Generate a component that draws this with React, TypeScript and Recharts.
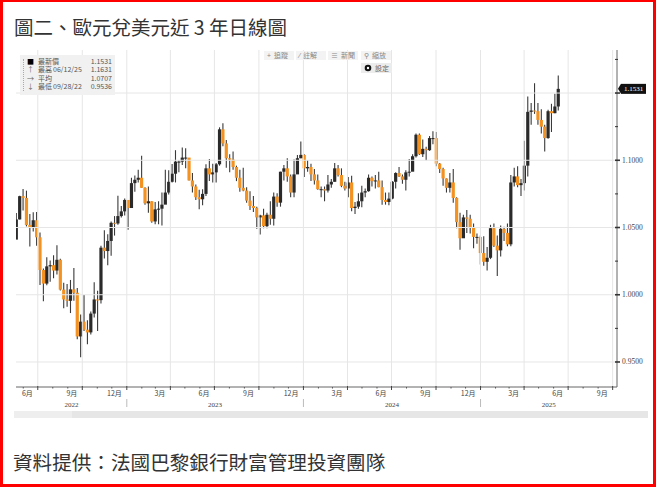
import { ComposedChart, Bar, XAxis, YAxis, ReferenceLine } from 'recharts';

const DAY = 86400000;

// weekly candles, week ending Friday, first week ends 2022-05-20
const firstWeekEnd = Date.UTC(2022, 4, 20);
const firstOpen = 1.041;

const close2022 = [
  1.056, 1.0733, 1.072, 1.0519, 1.0496, 1.0554, 1.0427, 1.0184, 1.0083, 1.0211, 1.022, 1.018, 1.026,
  1.0038, 0.9965, 0.9955, 1.004, 1.0015, 0.969, 0.98, 0.974, 0.972, 0.986, 0.9965, 0.996, 1.035,
  1.0325, 1.04, 1.0535, 1.053, 1.0585, 1.062, 1.0705,
];
const high2022 = [
  1.0607, 1.0737, 1.0787, 1.0774, 1.0601, 1.0614, 1.0615, 1.0463, 1.0196, 1.0278, 1.0255, 1.0294,
  1.0368, 1.0268, 1.009, 1.008, 1.011, 1.0198, 1.005, 0.9854, 0.9999, 0.981, 0.9875, 1.0093, 1.003,
  1.0365, 1.048, 1.045, 1.0545, 1.0585, 1.0737, 1.066, 1.0715,
];
const low2022 = [
  1.046, 1.056, 1.0627, 1.0508, 1.0359, 1.047, 1.0365, 1.0072, 0.9952, 1.0071, 1.0097, 1.0123, 1.015,
  1.0032, 0.99, 0.991, 0.9864, 0.9955, 0.9669, 0.9536, 0.973, 0.9632, 0.9705, 0.983, 0.973, 0.9935,
  1.027, 1.022, 1.029, 1.044, 1.052, 1.0575, 1.059,
];

const close2023 = [
  1.0645, 1.083, 1.0855, 1.087, 1.0795, 1.068, 1.0695, 1.0545, 1.0635, 1.064, 1.067, 1.076, 1.084,
  1.09, 1.099, 1.099, 1.102, 1.102, 1.085, 1.0805, 1.0725, 1.071, 1.075, 1.094, 1.0895, 1.091, 1.097,
  1.123, 1.1125, 1.1015, 1.1005, 1.095, 1.087, 1.0795, 1.0775, 1.07, 1.066, 1.0645, 1.0575, 1.059,
  1.051, 1.0595, 1.0565, 1.073, 1.0685, 1.0915, 1.094, 1.088, 1.076, 1.0895, 1.1015, 1.104,
];
const high2023 = [
  1.0685, 1.087, 1.0887, 1.0929, 1.1033, 1.08, 1.0805, 1.0695, 1.069, 1.0695, 1.076, 1.093, 1.0925,
  1.0973, 1.1075, 1.1, 1.1095, 1.109, 1.1005, 1.0905, 1.082, 1.078, 1.0785, 1.097, 1.101, 1.0975,
  1.098, 1.1245, 1.1276, 1.115, 1.1045, 1.1065, 1.096, 1.093, 1.0945, 1.08, 1.077, 1.0735, 1.0655,
  1.0595, 1.064, 1.061, 1.0695, 1.076, 1.0755, 1.0915, 1.0965, 1.1015, 1.0895, 1.1005, 1.104, 1.114,
];
const low2023 = [
  1.0483, 1.0645, 1.0766, 1.0835, 1.0795, 1.067, 1.061, 1.0535, 1.0525, 1.0525, 1.0515, 1.071,
  1.0745, 1.0835, 1.0835, 1.091, 1.0965, 1.094, 1.085, 1.076, 1.0705, 1.0635, 1.0665, 1.0735, 1.0845,
  1.0835, 1.0835, 1.096, 1.1105, 1.0945, 1.091, 1.093, 1.0845, 1.0765, 1.077, 1.0685, 1.063, 1.0615,
  1.049, 1.0448, 1.0495, 1.0495, 1.052, 1.0515, 1.0655, 1.0655, 1.085, 1.084, 1.0725, 1.0725, 1.09,
  1.1015,
];

const close2024 = [
  1.094, 1.095, 1.0895, 1.085, 1.0785, 1.0785, 1.0775, 1.082, 1.084, 1.094, 1.089, 1.081, 1.079,
  1.0835, 1.0645, 1.0655, 1.0695, 1.076, 1.077, 1.087, 1.0845, 1.085, 1.08, 1.0705, 1.069, 1.0715,
  1.084, 1.0905, 1.088, 1.0855, 1.091, 1.0915, 1.103, 1.119, 1.1045, 1.1085, 1.1075, 1.1165, 1.1165,
  1.0975, 1.0935, 1.0865, 1.0795, 1.0835, 1.072, 1.054, 1.042, 1.0575, 1.0565, 1.05, 1.043, 1.043,
];
const high2024 = [
  1.1045, 1.1, 1.0975, 1.0935, 1.0895, 1.0805, 1.0805, 1.089, 1.086, 1.098, 1.0965, 1.094, 1.084,
  1.0875, 1.0885, 1.069, 1.0755, 1.081, 1.079, 1.0895, 1.088, 1.089, 1.0915, 1.085, 1.076, 1.076,
  1.0845, 1.091, 1.095, 1.0895, 1.0925, 1.101, 1.1045, 1.12, 1.12, 1.1155, 1.11, 1.118, 1.1215,
  1.121, 1.098, 1.0945, 1.0865, 1.0905, 1.0935, 1.0725, 1.061, 1.0595, 1.063, 1.0595, 1.053, 1.0455,
];
const low2024 = [
  1.0875, 1.0915, 1.0845, 1.082, 1.078, 1.0725, 1.0695, 1.076, 1.0795, 1.084, 1.088, 1.08, 1.0775,
  1.0725, 1.062, 1.06, 1.064, 1.065, 1.0725, 1.0765, 1.0805, 1.079, 1.08, 1.067, 1.067, 1.0665,
  1.071, 1.079, 1.0875, 1.0825, 1.0775, 1.088, 1.0925, 1.102, 1.104, 1.1025, 1.1, 1.107, 1.112,
  1.0955, 1.0905, 1.081, 1.076, 1.076, 1.0685, 1.0495, 1.0335, 1.0425, 1.046, 1.0455, 1.0345, 1.038,
];

const close2025 = [
  1.031, 1.0245, 1.0275, 1.0495, 1.0365, 1.033, 1.049, 1.046, 1.0375, 1.0835, 1.088, 1.0815, 1.083,
  1.096, 1.136, 1.137, 1.1365, 1.13, 1.125, 1.1165, 1.1365, 1.135, 1.14, 1.1531,
];
const high2025 = [
  1.044, 1.0435, 1.0355, 1.052, 1.053, 1.044, 1.0515, 1.0505, 1.053, 1.089, 1.0945, 1.0955, 1.086,
  1.1145, 1.1475, 1.1425, 1.1573, 1.1425, 1.138, 1.1265, 1.1375, 1.142, 1.1495, 1.1631,
];
const low2025 = [
  1.0225, 1.0215, 1.018, 1.0265, 1.0355, 1.014, 1.0285, 1.04, 1.036, 1.036, 1.0805, 1.08, 1.0735,
  1.0775, 1.088, 1.1265, 1.1345, 1.1265, 1.12, 1.1065, 1.116, 1.121, 1.135, 1.137,
];

const closes = [...close2022, ...close2023, ...close2024, ...close2025];
const highs = [...high2022, ...high2023, ...high2024, ...high2025];
const lows = [...low2022, ...low2023, ...low2024, ...low2025];

const lastPrice = 1.1531;
const legendRows = [
  { icon: '■', label: '最新價', date: '', value: '1.1531' },
  { icon: '↑', label: '最高', date: '06/12/25', value: '1.1631' },
  { icon: '→', label: '平均', date: '', value: '1.0707' },
  { icon: '↓', label: '最低', date: '09/28/22', value: '0.9536' },
];
const toolbarItems = [
  { icon: '+', label: '追蹤', left: 264 },
  { icon: '⁄', label: '註解', left: 296 },
  { icon: '≡', label: '新聞', left: 328 },
  { icon: '⚲', label: '縮放', left: 361 },
];

const yTicks = [0.95, 0.975, 1.0, 1.025, 1.05, 1.075, 1.1, 1.125, 1.15, 1.175];
const yMajor = [0.95, 1.0, 1.05, 1.1, 1.15];
// 1.1500 sits under the last-price tag, so its label is left out
const yLabelled = [0.95, 1.0, 1.05, 1.1];

const xStart = Date.UTC(2022, 4, 17);
const xEnd = Date.UTC(2025, 9, 10);

const monthTicks: number[] = [];
for (let y = 2022; y <= 2025; y++) {
  for (let m = 0; m < 12; m++) {
    const t = Date.UTC(y, m, 1);
    if (t > xStart && t < xEnd) monthTicks.push(t);
  }
}
const quarterTicks = monthTicks.filter((t) => new Date(t).getUTCMonth() % 3 === 0);
const quarterLabel: Record<number, string> = { 0: '12月', 3: '3月', 6: '6月', 9: '9月' };

const years = [2022, 2023, 2024, 2025];
const yearMid = new Map<number, string>();
years.forEach((yr) => {
  const a = Math.max(Date.UTC(yr, 0, 1), xStart);
  const b = Math.min(Date.UTC(yr + 1, 0, 1), xEnd);
  yearMid.set(Math.round((a + b) / 2), String(yr));
});

const data = closes.map((c, i) => ({
  t: firstWeekEnd + i * 7 * DAY - 2 * DAY,
  open: i === 0 ? firstOpen : closes[i - 1],
  close: c,
  high: highs[i],
  low: lows[i],
  range: [lows[i], highs[i]],
}));

const FONT = '"Noto Sans CJK TC", "Noto Sans", sans-serif';

const Candle = (props: any) => {
  const { x, y, width, height, payload } = props;
  if (x == null || y == null || !payload) return null;
  const top = Math.min(y, y + height);
  const bottom = Math.max(y, y + height);
  const { open, close, high, low } = payload;
  const span = high - low || 1e-6;
  const yOf = (v: number) => top + ((high - v) / span) * (bottom - top);
  const cx = x + width / 2;
  const up = close >= open;
  const bTop = yOf(Math.max(open, close));
  const bBot = yOf(Math.min(open, close));
  return (
    <g>
      <line x1={cx} x2={cx} y1={top} y2={bottom} stroke="#3a3a3a" strokeWidth={1.1} />
      <rect
        x={cx - 1.6}
        y={bTop}
        width={3.2}
        height={Math.max(bBot - bTop, 1)}
        fill={up ? '#2a2a2a' : '#f39221'}
      />
    </g>
  );
};

const YTick = ({ x, y, payload }: any) => {
  const v = payload.value;
  const major = yMajor.some((m) => Math.abs(m - v) < 1e-6);
  const labelled = yLabelled.some((m) => Math.abs(m - v) < 1e-6);
  return (
    <g>
      <line x1={x - 2} x2={x + (major ? 3 : 1)} y1={y} y2={y} stroke="#333" strokeWidth={major ? 1.6 : 1} />
      {labelled && (
        <text x={x + 5} y={y} dy={2.5} fontSize={7.5} fill="#444" fontFamily="Liberation Serif, serif">
          {v.toFixed(4)}
        </text>
      )}
    </g>
  );
};

const XTick = ({ x, y, payload }: any) => {
  const v = payload.value;
  const yr = yearMid.get(v);
  if (yr) {
    return (
      <text x={x} y={y + 20} textAnchor="middle" fontSize={7} fill="#444" fontFamily="Liberation Serif, serif">
        {yr}
      </text>
    );
  }
  const m = new Date(v).getUTCMonth();
  if (m % 3 !== 0) {
    return <line x1={x} x2={x} y1={y} y2={y + 1.5} stroke="#555" strokeWidth={1} />;
  }
  return (
    <g>
      <line x1={x} x2={x} y1={y - 1} y2={y + 3} stroke="#444" strokeWidth={1} />
      <text x={x - 5} y={y + 9} textAnchor="end" fontSize={7} fill="#444" fontFamily={FONT}>
        {quarterLabel[m]}
      </text>
      {m === 0 && <line x1={x} x2={x} y1={y + 12} y2={y + 20} stroke="#bbb" strokeWidth={1} />}
    </g>
  );
};

const PriceTag = (props: any) => {
  const vb = props.viewBox;
  if (!vb) return null;
  const x = vb.x + vb.width + 1;
  const y = vb.y;
  return (
    <g>
      <polygon points={`${x},${y} ${x + 3},${y - 5} ${x + 3},${y + 5}`} fill="#111" />
      <rect x={x + 3} y={y - 5} width={25} height={10} fill="#111" />
      <text x={x + 15.5} y={y} dy={2.5} textAnchor="middle" fontSize={7} fill="#fff" fontFamily="Liberation Serif, serif">
        {lastPrice.toFixed(4)}
      </text>
    </g>
  );
};

export default function App() {
  return (
    <div
      style={{
        position: 'absolute',
        left: 0,
        top: 0,
        width: 656,
        height: 487,
        background: '#fff',
        overflow: 'hidden',
        fontFamily: FONT,
      }}
    >
      <ComposedChart
        width={656}
        height={487}
        data={data}
        margin={{ top: 50, right: 4, left: 16, bottom: 70 }}
        style={{ position: 'absolute', left: 0, top: 0 }}
      >
        {quarterTicks.map((t) => (
          <ReferenceLine key={`gx${t}`} x={t} stroke="#e6e6e6" strokeWidth={1} />
        ))}
        {yMajor.map((v) => (
          <ReferenceLine key={`gy${v}`} y={v} stroke="#e6e6e6" strokeWidth={1} />
        ))}
        <XAxis
          type="number"
          dataKey="t"
          domain={[xStart, xEnd]}
          allowDataOverflow
          ticks={[...monthTicks, ...Array.from(yearMid.keys())]}
          interval={0}
          tick={<XTick />}
          tickLine={false}
          tickSize={0}
          tickMargin={0}
          height={30}
          axisLine={{ stroke: '#666' }}
        />
        <YAxis
          orientation="right"
          domain={[0.9314, 1.182]}
          allowDataOverflow
          ticks={yTicks}
          interval={0}
          tick={<YTick />}
          tickLine={false}
          tickSize={0}
          tickMargin={0}
          width={35}
          axisLine={{ stroke: '#666' }}
        />
        <Bar dataKey="range" barSize={3} shape={<Candle />} isAnimationActive={false} />
        <ReferenceLine y={lastPrice} stroke="none" label={<PriceTag />} />
      </ComposedChart>

      {/* title */}
      <div
        style={{
          position: 'absolute',
          left: 14,
          top: 14,
          fontSize: 19.5,
          lineHeight: '26px',
          color: '#333',
          whiteSpace: 'nowrap',
        }}
      >
        圖二、歐元兌美元近 3 年日線圖
      </div>

      {/* legend box */}
      <div
        style={{
          position: 'absolute',
          left: 20,
          top: 55,
          width: 95,
          height: 40,
          background: '#f1f1f1',
          fontSize: 7,
          color: '#555',
        }}
      >
        <div style={{ position: 'absolute', left: 3, top: 4, width: 0, height: 32, borderLeft: '1px dotted #aaa' }} />
        {legendRows.map((r, i) => (
          <div key={r.label} style={{ position: 'absolute', left: 0, top: 1.5 + i * 8.6, width: 95, height: 9, lineHeight: '9px' }}>
            <span style={{ position: 'absolute', left: 7, color: i === 0 ? '#000' : '#666' }}>{r.icon}</span>
            <span style={{ position: 'absolute', left: 18 }}>{r.label}</span>
            <span style={{ position: 'absolute', left: 33 }}>{r.date}</span>
            <span style={{ position: 'absolute', right: 3 }}>{r.value}</span>
          </div>
        ))}
      </div>

      {/* toolbar */}
      {toolbarItems.map((it) => (
        <div
          key={it.label}
          style={{
            position: 'absolute',
            left: it.left,
            top: 51,
            width: 30,
            height: 9,
            background: '#f3f3f3',
            fontSize: 7,
            lineHeight: '9px',
            color: '#888',
            whiteSpace: 'nowrap',
          }}
        >
          <span style={{ marginLeft: 3, marginRight: 3 }}>{it.icon}</span>
          {it.label}
        </div>
      ))}
      <div
        style={{
          position: 'absolute',
          left: 361,
          top: 63,
          width: 31,
          height: 10,
          background: '#ececec',
          fontSize: 7,
          lineHeight: '10px',
          color: '#666',
          whiteSpace: 'nowrap',
        }}
      >
        <svg width={8} height={8} style={{ position: 'absolute', left: 3, top: 1 }}>
          <circle cx={4} cy={4} r={3.3} fill="#111" />
          <circle cx={4} cy={4} r={1.2} fill="#fff" />
        </svg>
        <span style={{ position: 'absolute', left: 14 }}>設定</span>
      </div>

      {/* scroll bar */}
      <div style={{ position: 'absolute', left: 14, top: 411, width: 634, height: 7, background: '#e6e6e6' }} />
      <div style={{ position: 'absolute', left: 14, top: 411, width: 58, height: 7, background: '#eeeeee' }} />

      {/* footer */}
      <div
        style={{
          position: 'absolute',
          left: 13,
          top: 449,
          fontSize: 19.6,
          lineHeight: '26px',
          color: '#333',
          whiteSpace: 'nowrap',
        }}
      >
        資料提供：法國巴黎銀行財富管理投資團隊
      </div>

      {/* red frame */}
      <div
        style={{
          position: 'absolute',
          left: 0,
          top: 0,
          width: 656,
          height: 487,
          boxSizing: 'border-box',
          borderStyle: 'solid',
          borderColor: '#ff0000',
          borderWidth: '2px 3px 3px 3px',
          pointerEvents: 'none',
        }}
      />
    </div>
  );
}
